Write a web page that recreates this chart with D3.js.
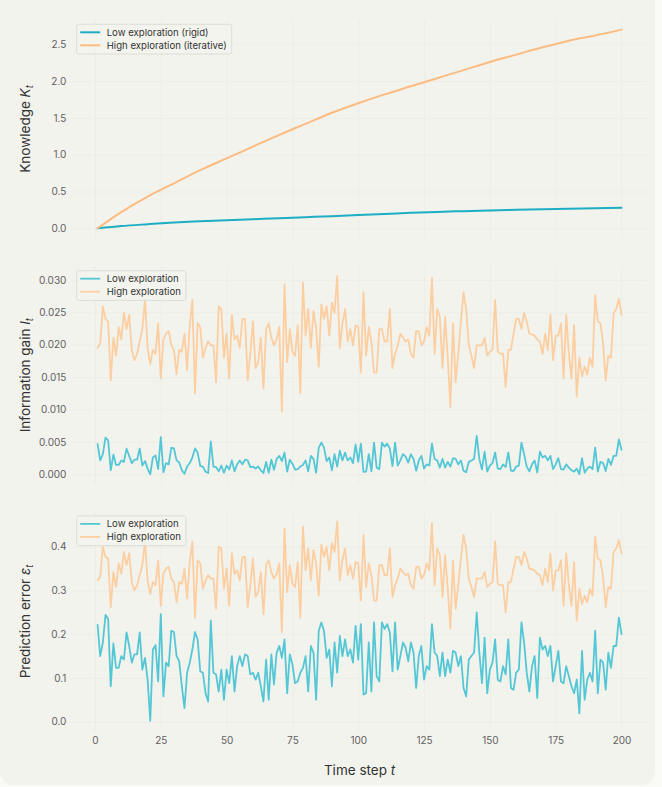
<!DOCTYPE html>
<html>
<head>
<meta charset="utf-8">
<script src="https://cdn.jsdelivr.net/npm/d3@7/dist/d3.min.js"></script>
<style>
  html, body { margin: 0; padding: 0; background: #f9f9f6; }
  svg { display: block; }
  text { font-family: "Inter", "Liberation Sans", sans-serif; }
</style>
</head>
<body>
<svg id="chart" width="662" height="787"></svg>
<script>
// ---------------- DATA ----------------
const timeSteps = d3.range(1, 201);
const xTicks = [0, 25, 50, 75, 100, 125, 150, 175, 200];

const seriesNames = ["Low exploration", "High exploration"];
const knowledgeNames = ["Low exploration (rigid)", "High exploration (iterative)"];

// Knowledge K_t (read at selected steps)
const knowT    = [1, 10, 20, 30, 40, 50, 60, 70, 80, 90, 100, 110, 120, 130, 140, 150, 160, 170, 180, 190, 200];
const knowLow  = [0, 0.03, 0.055, 0.078, 0.095, 0.11, 0.123, 0.137, 0.151, 0.165, 0.18, 0.195, 0.21, 0.222, 0.233, 0.243, 0.251, 0.258, 0.265, 0.272, 0.28];
const knowHigh = [0, 0.22, 0.43, 0.61, 0.79, 0.95, 1.11, 1.27, 1.42, 1.57, 1.70, 1.82, 1.93, 2.04, 2.15, 2.26, 2.36, 2.46, 2.55, 2.62, 2.70];

// Information gain I_t
const gainLow = [
0.00464,0.00214,0.00311,0.00566,0.00525,0.00062,0.00304,0.00144,0.00144,0.00214,
0.00192,0.00395,0.00284,0.00173,0.00225,0.00225,0.00395,0.00135,0.00203,0.00088,
0.00000,0.00259,0.00291,0.00080,0.00575,0.00032,0.00173,0.00153,0.00411,0.00399,
0.00214,0.00181,0.00062,0.00009,0.00119,0.00173,0.00259,0.00399,0.00336,0.00126,
0.00119,0.00040,0.00020,0.00507,0.00119,0.00111,0.00045,0.00135,0.00024,0.00135,
0.00074,0.00214,0.00045,0.00153,0.00214,0.00153,0.00225,0.00214,0.00111,0.00119,
0.00088,0.00119,0.00062,0.00020,0.00192,0.00024,0.00225,0.00069,0.00237,0.00284,
0.00203,0.00336,0.00040,0.00225,0.00163,0.00074,0.00080,0.00119,0.00144,0.00214,
0.00045,0.00284,0.00237,0.00024,0.00411,0.00490,0.00411,0.00203,0.00259,0.00062,
0.00311,0.00119,0.00365,0.00214,0.00336,0.00214,0.00259,0.00173,0.00456,0.00192,
0.00472,0.00037,0.00040,0.00311,0.00045,0.00490,0.00103,0.00080,0.00490,0.00427,
0.00472,0.00395,0.00126,0.00490,0.00135,0.00214,0.00311,0.00271,0.00181,0.00311,
0.00237,0.00056,0.00214,0.00284,0.00088,0.00153,0.00135,0.00472,0.00237,0.00214,
0.00103,0.00237,0.00103,0.00192,0.00119,0.00249,0.00237,0.00153,0.00214,0.00056,
0.00032,0.00192,0.00214,0.00237,0.00594,0.00237,0.00074,0.00350,0.00040,0.00135,
0.00173,0.00336,0.00088,0.00080,0.00153,0.00111,0.00336,0.00056,0.00051,0.00119,
0.00135,0.00490,0.00311,0.00119,0.00045,0.00153,0.00214,0.00028,0.00350,0.00259,
0.00284,0.00214,0.00284,0.00080,0.00153,0.00249,0.00080,0.00074,0.00153,0.00103,
0.00062,0.00040,0.00088,0.00003,0.00249,0.00024,0.00088,0.00119,0.00080,0.00411,
0.00040,0.00192,0.00173,0.00051,0.00237,0.00144,0.00284,0.00284,0.00538,0.00380];

const gainHigh = [
0.0195,0.0202,0.0259,0.0240,0.0236,0.0145,0.0211,0.0183,0.0227,0.0208,
0.0249,0.0224,0.0246,0.0192,0.0176,0.0186,0.0205,0.0224,0.0269,0.0195,
0.0170,0.0192,0.0186,0.0233,0.0148,0.0208,0.0217,0.0221,0.0199,0.0192,
0.0154,0.0192,0.0189,0.0217,0.0161,0.0230,0.0269,0.0125,0.0233,0.0227,
0.0180,0.0195,0.0205,0.0199,0.0199,0.0142,0.0259,0.0255,0.0180,0.0217,
0.0148,0.0246,0.0208,0.0214,0.0195,0.0240,0.0240,0.0145,0.0186,0.0236,
0.0164,0.0173,0.0211,0.0132,0.0224,0.0233,0.0211,0.0199,0.0208,0.0227,
0.0097,0.0293,0.0173,0.0224,0.0189,0.0183,0.0230,0.0125,0.0296,0.0214,
0.0255,0.0195,0.0252,0.0227,0.0166,0.0262,0.0240,0.0259,0.0214,0.0265,
0.0249,0.0306,0.0195,0.0233,0.0255,0.0205,0.0224,0.0199,0.0230,0.0227,
0.0157,0.0281,0.0183,0.0227,0.0205,0.0157,0.0157,0.0224,0.0224,0.0205,
0.0205,0.0255,0.0164,0.0186,0.0199,0.0217,0.0211,0.0205,0.0208,0.0186,
0.0180,0.0221,0.0221,0.0199,0.0205,0.0227,0.0214,0.0303,0.0186,0.0255,
0.0243,0.0164,0.0243,0.0180,0.0104,0.0233,0.0142,0.0186,0.0236,0.0281,
0.0255,0.0199,0.0183,0.0164,0.0199,0.0199,0.0199,0.0211,0.0183,0.0189,
0.0192,0.0269,0.0189,0.0186,0.0186,0.0135,0.0192,0.0192,0.0217,0.0240,
0.0240,0.0224,0.0249,0.0236,0.0217,0.0216,0.0214,0.0208,0.0205,0.0186,
0.0217,0.0192,0.0246,0.0176,0.0214,0.0214,0.0233,0.0148,0.0246,0.0186,
0.0148,0.0230,0.0120,0.0180,0.0151,0.0166,0.0154,0.0180,0.0166,0.0277,
0.0236,0.0233,0.0202,0.0145,0.0183,0.0180,0.0249,0.0255,0.0271,0.0246];

// Prediction error eps_t
const errLow = [
0.221,0.150,0.181,0.244,0.235,0.081,0.179,0.123,0.123,0.150,
0.142,0.204,0.173,0.135,0.154,0.154,0.204,0.119,0.146,0.096,
0.002,0.165,0.175,0.092,0.246,0.058,0.135,0.127,0.208,0.205,
0.150,0.138,0.081,0.031,0.112,0.135,0.165,0.205,0.188,0.115,
0.112,0.065,0.046,0.231,0.112,0.108,0.069,0.119,0.050,0.119,
0.088,0.150,0.069,0.127,0.150,0.127,0.154,0.150,0.108,0.112,
0.096,0.112,0.081,0.046,0.142,0.050,0.154,0.085,0.158,0.173,
0.146,0.188,0.065,0.154,0.131,0.088,0.092,0.112,0.123,0.150,
0.069,0.173,0.158,0.050,0.208,0.227,0.208,0.146,0.165,0.081,
0.181,0.112,0.196,0.150,0.188,0.150,0.165,0.135,0.219,0.142,
0.223,0.062,0.065,0.181,0.069,0.227,0.104,0.092,0.227,0.212,
0.223,0.204,0.115,0.227,0.119,0.150,0.181,0.169,0.138,0.181,
0.158,0.077,0.150,0.173,0.096,0.127,0.119,0.223,0.158,0.150,
0.104,0.158,0.104,0.142,0.112,0.162,0.158,0.127,0.150,0.077,
0.058,0.142,0.150,0.158,0.250,0.158,0.088,0.192,0.065,0.119,
0.135,0.188,0.096,0.092,0.127,0.108,0.188,0.077,0.073,0.112,
0.119,0.227,0.181,0.112,0.069,0.127,0.150,0.054,0.192,0.165,
0.173,0.150,0.173,0.092,0.127,0.162,0.092,0.088,0.127,0.104,
0.081,0.065,0.096,0.019,0.162,0.050,0.096,0.112,0.092,0.208,
0.065,0.142,0.135,0.073,0.158,0.123,0.173,0.173,0.238,0.200];

const errHigh = [
0.323,0.331,0.400,0.377,0.373,0.262,0.342,0.308,0.362,0.338,
0.388,0.358,0.385,0.319,0.300,0.312,0.335,0.358,0.412,0.323,
0.292,0.319,0.312,0.369,0.265,0.338,0.350,0.354,0.327,0.319,
0.273,0.319,0.315,0.350,0.281,0.365,0.412,0.238,0.369,0.362,
0.304,0.323,0.335,0.327,0.327,0.258,0.400,0.396,0.304,0.350,
0.265,0.385,0.338,0.346,0.323,0.377,0.377,0.262,0.312,0.373,
0.285,0.296,0.342,0.246,0.358,0.369,0.342,0.327,0.338,0.362,
0.204,0.442,0.296,0.358,0.315,0.308,0.365,0.238,0.446,0.346,
0.396,0.323,0.392,0.362,0.288,0.404,0.377,0.400,0.346,0.408,
0.388,0.458,0.323,0.369,0.396,0.335,0.358,0.327,0.365,0.362,
0.277,0.427,0.308,0.362,0.335,0.277,0.277,0.358,0.358,0.335,
0.335,0.396,0.285,0.312,0.327,0.350,0.342,0.335,0.338,0.312,
0.304,0.354,0.354,0.327,0.335,0.362,0.346,0.454,0.312,0.396,
0.381,0.285,0.381,0.304,0.212,0.369,0.258,0.312,0.373,0.427,
0.396,0.327,0.308,0.285,0.327,0.327,0.327,0.342,0.308,0.315,
0.319,0.412,0.315,0.312,0.312,0.250,0.319,0.319,0.350,0.377,
0.377,0.358,0.388,0.373,0.350,0.348,0.346,0.338,0.335,0.312,
0.350,0.319,0.385,0.300,0.346,0.346,0.369,0.265,0.385,0.312,
0.265,0.365,0.231,0.304,0.269,0.288,0.273,0.304,0.288,0.423,
0.373,0.369,0.331,0.262,0.308,0.304,0.388,0.396,0.415,0.385];

const kTicks = [0, 0.5, 1.0, 1.5, 2.0, 2.5];
const iTicks = [0, 0.005, 0.010, 0.015, 0.020, 0.025, 0.030];
const eTicks = [0, 0.1, 0.2, 0.3, 0.4];

// ---------------- STYLE / LAYOUT ----------------
const TEAL = "#1FB8CD", PEACH = "#FFC185";
const svg = d3.select("#chart");
const plotL = 71.4, plotR = 647.7;

// card background
svg.append("rect").attr("x", 0).attr("y", -14).attr("width", 655).attr("height", 799)
  .attr("rx", 13).attr("fill", "#f3f3ee");

const x = d3.scaleLinear().domain([-8.95, 209.95]).range([plotL, plotR]);

const panels = [
  { top: 19.7, bottom: 238.2, domain: [-0.135, 2.835], ticks: kTicks, fmt: ".1f",
    series: [{t: knowT, v: knowLow, c: "#1daec3"}, {t: knowT, v: knowHigh, c: "#fdbb80"}],
    names: knowledgeNames, width: 2.0, opacity: 1, curve: d3.curveMonotoneX,
    label: ["Knowledge ", "K", "t"] },
  { top: 266.1, bottom: 484.2, domain: [-0.00153, 0.03213], ticks: iTicks, fmt: ".3f",
    series: [{t: timeSteps, v: gainLow, c: TEAL}, {t: timeSteps, v: gainHigh, c: PEACH}],
    names: seriesNames, width: 1.8, opacity: 0.75, curve: d3.curveLinear,
    label: ["Information gain ", "I", "t"] },
  { top: 511.3, bottom: 731.7, domain: [-0.0229, 0.481], ticks: eTicks, fmt: ".1f",
    series: [{t: timeSteps, v: errLow, c: TEAL}, {t: timeSteps, v: errHigh, c: PEACH}],
    names: seriesNames, width: 1.8, opacity: 0.75, curve: d3.curveLinear,
    label: ["Prediction error ", "\u03B5", "t"] }
];

panels.forEach((p, pi) => {
  const y = d3.scaleLinear().domain(p.domain).range([p.bottom, p.top]);
  const g = svg.append("g");

  // grid
  const gx = g.append("g").attr("transform", `translate(0,${p.bottom})`)
    .call(d3.axisBottom(x).tickValues(xTicks).tickSize(-(p.bottom - p.top)).tickFormat(""));
  const gy = g.append("g").attr("transform", `translate(${plotL},0)`)
    .call(d3.axisLeft(y).tickValues(p.ticks).tickSize(-(plotR - plotL)).tickFormat(""));
  [gx, gy].forEach(a => {
    a.select(".domain").remove();
    a.selectAll("line").attr("stroke", "#ebebe5").attr("stroke-width", 0.7);
  });

  // y tick labels
  const ya = g.append("g").attr("transform", `translate(${plotL},0)`)
    .call(d3.axisLeft(y).tickValues(p.ticks).tickFormat(d3.format(p.fmt)).tickSize(0).tickPadding(5));
  ya.select(".domain").remove();
  ya.selectAll("text").attr("fill", "#606060").style("font-size", "10px");

  // lines
  p.series.forEach(s => {
    const line = d3.line().x((d, i) => x(s.t[i])).y(d => y(d)).curve(p.curve);
    g.append("path").datum(s.v).attr("d", line).attr("fill", "none")
      .attr("stroke", s.c).attr("stroke-width", p.width).attr("stroke-opacity", p.opacity)
      .attr("stroke-linejoin", "round").attr("stroke-linecap", "round");
  });

  // y label
  const cy = (p.top + p.bottom) / 2;
  const lab = g.append("text").attr("transform", `translate(30,${cy}) rotate(-90)`)
    .attr("text-anchor", "middle").attr("fill", "#333").style("font-size", "13.5px");
  lab.append("tspan").text(p.label[0]);
  lab.append("tspan").attr("font-style", "italic").text(p.label[1]);
  lab.append("tspan").attr("font-style", "italic").attr("dy", "0.3em").style("font-size", "9.5px").text(p.label[2]);

  // legend
  const lg = g.append("g");
  const lx = 76.7, ly = p.top + 4.6;
  const box = lg.append("rect").attr("x", lx).attr("y", ly).attr("height", 29.7)
    .attr("rx", 2).attr("fill", "#f3f3ee").attr("fill-opacity", 0.85)
    .attr("stroke", "#d8d8d3").attr("stroke-width", 0.8);
  let maxW = 0;
  p.names.forEach((n, i) => {
    const yy = ly + 8 + i * 13;
    lg.append("line").attr("x1", lx + 3.5).attr("x2", lx + 23.5).attr("y1", yy).attr("y2", yy)
      .attr("stroke", p.series[i].c).attr("stroke-width", p.width).attr("stroke-opacity", p.opacity);
    const t = lg.append("text").attr("x", lx + 30).attr("y", yy + 3.4)
      .attr("fill", "#333").style("font-size", "9.6px").text(n);
    maxW = Math.max(maxW, t.node().getComputedTextLength());
  });
  box.attr("width", 30 + maxW + 5);

  // x axis on bottom panel
  if (pi === 2) {
    const xa = g.append("g").attr("transform", `translate(0,${p.bottom})`)
      .call(d3.axisBottom(x).tickValues(xTicks).tickSize(0).tickPadding(5.5));
    xa.select(".domain").remove();
    xa.selectAll("text").attr("fill", "#606060").style("font-size", "10px");
  }
});

// x label
const xl = svg.append("text").attr("x", (plotL + plotR) / 2).attr("y", 775)
  .attr("text-anchor", "middle").attr("fill", "#333").style("font-size", "13.5px");
xl.append("tspan").text("Time step ");
xl.append("tspan").attr("font-style", "italic").text("t");
</script>
</body>
</html>
